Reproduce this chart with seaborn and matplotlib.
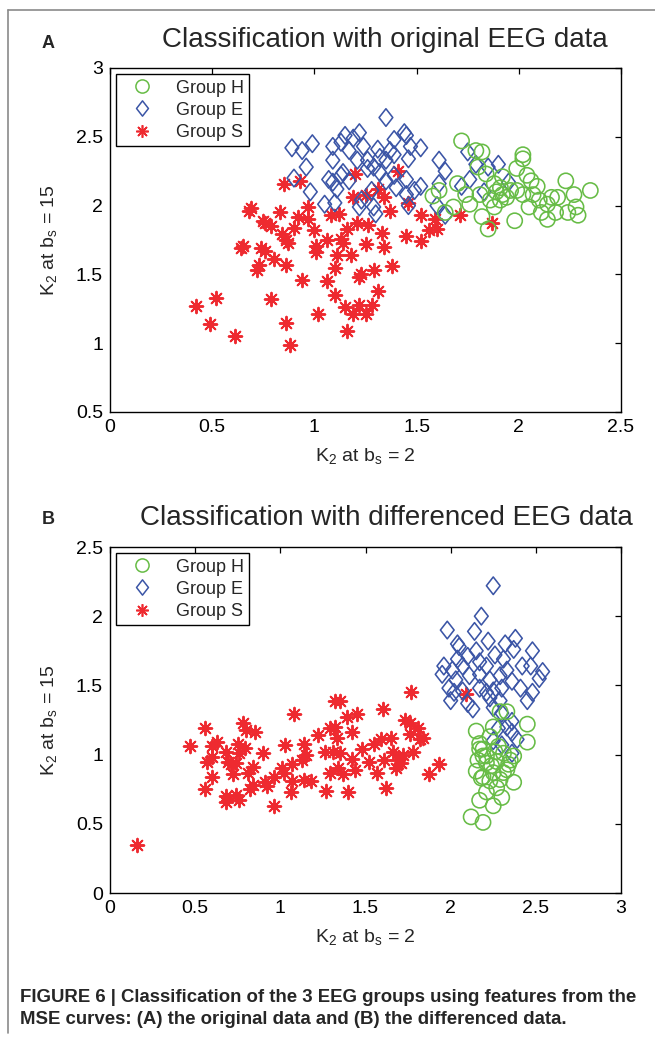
import numpy as np
import pandas as pd
import matplotlib
matplotlib.use("Agg")
import matplotlib.pyplot as plt
import seaborn as sns
from matplotlib.lines import Line2D
from matplotlib.path import Path
from matplotlib.ticker import FuncFormatter

# ---------------- data: panel A (original EEG) ----------------
A_H_x = [1.72, 1.79, 1.82, 2.02, 2.02, 1.99, 2.23, 2.35, 2.27, 1.61, 1.58, 1.64, 1.68, 1.70,
         1.74, 1.76, 1.81, 1.82, 1.85, 1.88, 1.89, 1.91, 1.92, 1.94, 1.88, 1.96, 1.98, 2.02,
         2.04, 2.06, 2.07, 2.09, 2.05, 2.10, 2.14, 2.11, 2.16, 2.19, 2.18, 2.14, 2.24, 2.28,
         2.29, 1.80, 1.84, 1.91, 1.86, 1.92, 1.99]
A_H_y = [2.47, 2.40, 2.39, 2.37, 2.34, 2.27, 2.18, 2.11, 2.08, 2.11, 2.07, 1.95, 1.99, 2.16,
         2.08, 2.01, 2.08, 1.92, 1.83, 2.16, 2.10, 2.04, 2.21, 2.06, 1.99, 2.11, 1.89, 2.08,
         2.22, 2.18, 2.08, 2.14, 1.99, 2.04, 2.01, 1.95, 2.06, 2.06, 1.95, 1.90, 1.95, 1.99,
         1.93, 2.28, 2.23, 2.13, 2.04, 2.08, 2.11]

A_E_x = [0.89, 0.94, 0.99, 0.96, 0.90, 0.98, 1.09, 1.13, 1.15, 1.19, 1.22, 1.17, 1.09, 1.24,
         1.07, 1.09, 1.11, 1.14, 1.13, 1.17, 1.21, 1.26, 1.26, 1.31, 1.05, 1.10, 1.22, 1.29,
         1.32, 1.28,
         1.35, 1.44, 1.45, 1.39, 1.47, 1.52, 1.37, 1.39, 1.46, 1.35, 1.29, 1.32, 1.39, 1.45,
         1.35, 1.52, 1.49, 1.45, 1.40, 1.23, 1.30, 1.46, 1.61, 1.64, 1.61, 1.60, 1.64, 1.75,
         1.79, 1.85, 1.90, 1.72, 1.76, 1.83, 1.95]
A_E_y = [2.42, 2.40, 2.45, 2.28, 2.20, 2.10, 2.33, 2.46, 2.51, 2.49, 2.53, 2.40, 2.43, 2.43,
         2.19, 2.17, 2.12, 2.24, 2.22, 2.18, 2.33, 2.33, 2.27, 2.41, 2.01, 2.02, 1.99, 1.99,
         2.35, 2.11,
         2.64, 2.53, 2.51, 2.48, 2.43, 2.42, 2.40, 2.37, 2.34, 2.33, 2.28, 2.24, 2.22, 2.19,
         2.18, 2.14, 2.11, 2.08, 2.13, 2.04, 1.94, 2.00, 2.33, 2.25, 2.16, 2.00, 1.93, 2.39,
         2.30, 2.28, 2.30, 2.14, 2.19, 2.10, 2.17]

A_S_x = [0.42, 0.52, 0.49, 0.61, 0.79, 0.86, 0.88, 1.02, 1.16, 0.94, 1.06, 1.10, 1.10, 0.86,
         0.80, 0.72, 0.73, 0.64, 0.65, 0.74, 0.76, 0.69, 0.68, 0.75, 0.76, 0.79, 0.83, 0.85,
         0.93, 0.84, 0.86, 0.87, 0.90, 0.92, 0.97, 0.97, 1.00, 1.01, 1.01, 1.06, 1.08, 1.12,
         1.13, 1.14, 1.16, 1.11, 1.18, 1.21, 1.26, 1.25, 1.29, 1.23, 1.22, 1.31, 1.15, 1.19,
         1.22, 1.25, 1.28, 1.19, 1.25, 1.20, 1.31,
         1.41, 1.34, 1.37, 1.46, 1.52, 1.59, 1.71, 1.56, 1.60, 1.52, 1.45, 1.33, 1.34, 1.38,
         1.87]
A_S_y = [1.27, 1.33, 1.14, 1.05, 1.32, 1.15, 0.99, 1.21, 1.09, 1.46, 1.45, 1.35, 1.55, 1.57,
         1.61, 1.53, 1.57, 1.69, 1.71, 1.69, 1.67, 1.98, 1.96, 1.89, 1.87, 1.85, 1.95, 2.16,
         2.18, 1.79, 1.75, 1.73, 1.84, 1.92, 1.90, 1.99, 1.82, 1.71, 1.66, 1.75, 1.93, 1.94,
         1.76, 1.73, 1.83, 1.64, 1.64, 1.87, 1.86, 1.72, 1.53, 1.50, 1.48, 1.38, 1.26, 1.21,
         1.28, 1.21, 1.28, 2.06, 2.08, 2.23, 2.12,
         2.25, 2.06, 1.96, 2.02, 1.93, 1.90, 1.93, 1.82, 1.83, 1.74, 1.78, 1.80, 1.70, 1.56,
         1.87]

# ---------------- data: panel B (differenced EEG) ----------------
B_H_x = [2.29, 2.33, 2.45, 2.45, 2.15, 2.25, 2.17, 2.19, 2.21, 2.26, 2.31, 2.37, 2.16, 2.21,
         2.27, 2.34, 2.15, 2.19, 2.25, 2.31, 2.37, 2.23, 2.27, 2.30, 2.21, 2.17, 2.25, 2.12,
         2.19, 2.17, 2.28, 2.33, 2.18, 2.29, 2.24, 2.35, 2.23, 2.19]
B_H_y = [1.31, 1.31, 1.22, 1.09, 1.17, 1.20, 1.08, 1.04, 0.99, 1.02, 1.01, 0.99, 0.96, 0.94,
         0.95, 0.93, 0.88, 0.84, 0.87, 0.87, 0.80, 0.81, 0.76, 0.69, 0.73, 0.67, 0.63, 0.55,
         0.51, 1.04, 1.06, 0.89, 0.83, 0.82, 0.92, 0.96, 1.13, 0.99]

B_E_x = [2.25, 2.18, 1.98, 2.14, 2.04, 2.05, 2.22, 2.32, 2.38, 2.37, 2.48, 2.10, 2.15, 2.26,
         1.96, 1.95, 2.01, 2.07, 2.17, 2.21, 2.31, 2.33, 2.42, 2.47, 2.54, 2.52, 2.03, 2.11,
         2.17, 2.23, 2.29, 2.36, 1.99, 2.02, 2.07, 2.17, 2.25, 2.30, 2.41, 2.48, 2.00, 2.10,
         2.13, 2.23, 2.29, 2.45, 2.25, 2.30, 2.36, 2.28, 2.36, 2.39, 2.25, 2.30, 2.36, 2.33,
         2.21, 2.04]
B_E_y = [2.22, 2.00, 1.90, 1.89, 1.80, 1.78, 1.82, 1.80, 1.84, 1.76, 1.75, 1.71, 1.75, 1.72,
         1.64, 1.58, 1.61, 1.64, 1.67, 1.64, 1.69, 1.61, 1.64, 1.64, 1.60, 1.55, 1.54, 1.57,
         1.58, 1.54, 1.57, 1.53, 1.48, 1.45, 1.46, 1.48, 1.46, 1.48, 1.48, 1.45, 1.39, 1.37,
         1.33, 1.41, 1.39, 1.39, 1.34, 1.30, 1.24, 1.19, 1.16, 1.11, 1.10, 1.07, 1.01, 1.20,
         1.45, 1.69]

B_S_x = [0.16, 0.47, 0.56, 0.56, 0.57, 0.60, 0.60, 0.63, 0.60, 0.68, 0.68, 0.68, 0.69, 0.71,
         0.72, 0.74, 0.74, 0.76, 0.75, 0.76, 0.79, 0.78, 0.80, 0.85, 0.81, 0.84, 0.82, 0.84,
         0.90, 0.91, 0.92, 0.96, 0.96, 1.01, 1.02, 1.03, 1.06, 1.07, 1.07, 1.08, 1.13, 1.14,
         1.15, 1.14, 1.18, 1.22, 1.26, 1.27, 1.29, 1.32, 1.33, 1.32, 1.35, 1.31, 1.35, 1.29,
         1.34, 1.37, 1.40, 1.39, 1.42, 1.42, 1.44, 1.45, 1.48,
         1.52, 1.55, 1.57,
         1.77, 1.60, 1.73, 1.76, 1.81, 1.76, 1.82, 1.84, 1.59, 1.65, 1.66, 1.78, 1.72, 1.61,
         1.69, 1.68, 1.71, 1.93, 1.87, 1.62, 2.09]
B_S_y = [0.35, 1.06, 1.19, 0.75, 0.95, 0.98, 1.06, 1.09, 0.84, 0.70, 0.66, 1.02, 0.95, 0.93,
         0.86, 0.94, 0.71, 0.67, 1.08, 1.01, 1.05, 1.23, 1.18, 1.16, 0.87, 0.91, 0.75, 0.78,
         1.01, 0.80, 0.77, 0.63, 0.84, 0.90, 0.87, 1.07, 0.73, 0.81, 0.93, 1.29, 0.96, 1.08,
         1.00, 0.82, 0.81, 1.14, 1.02, 0.74, 1.19, 1.20, 1.12, 1.39, 1.39, 1.02, 1.01, 0.87,
         0.90, 0.86, 0.73, 1.27, 1.16, 0.97, 0.89, 1.29, 1.04,
         0.95, 1.08, 0.87,
         1.45, 1.33, 1.25, 1.23, 1.19, 1.15, 1.11, 1.12, 1.11, 1.12, 1.02, 1.02, 1.00, 0.96,
         0.96, 0.90, 0.94, 0.93, 0.86, 0.76, 1.44]

groups = ["Group H", "Group E", "Group S"]
colors = {"Group H": "#67bc46", "Group E": "#3b55a6", "Group S": "#ee2a30"}

diamond = Path([(0, 1), (0.78, 0), (0, -1), (-0.78, 0), (0, 1)],
               [Path.MOVETO, Path.LINETO, Path.LINETO, Path.LINETO, Path.CLOSEPOLY])
markers = {"Group H": "o", "Group E": diamond, "Group S": (8, 2, 0)}
sizes = {"Group H": 120, "Group E": 160, "Group S": 95}

sns.set_style("white")
plt.rcParams["font.family"] = ["Liberation Sans", "DejaVu Sans"]
plt.rcParams["mathtext.fontset"] = "custom"
plt.rcParams["mathtext.rm"] = "Liberation Sans"
plt.rcParams["mathtext.it"] = "Liberation Sans"

fig = plt.figure(figsize=(6.55, 10.39), dpi=100)
W, H = 655, 1039


def ax_rect(l, r, t, b):
    return [l / W, 1 - b / H, (r - l) / W, (b - t) / H]


axA = fig.add_axes(ax_rect(110, 621, 68, 412))
axB = fig.add_axes(ax_rect(110, 621, 547, 893))

panels = [
    (axA, {"Group H": (A_H_x, A_H_y), "Group E": (A_E_x, A_E_y), "Group S": (A_S_x, A_S_y)},
     (0, 2.5), (0.5, 3), np.arange(0, 2.51, 0.5), np.arange(0.5, 3.01, 0.5)),
    (axB, {"Group H": (B_H_x, B_H_y), "Group E": (B_E_x, B_E_y), "Group S": (B_S_x, B_S_y)},
     (0, 3), (0, 2.5), np.arange(0, 3.01, 0.5), np.arange(0, 2.51, 0.5)),
]

fmt = FuncFormatter(lambda v, p: f"{v:g}")
zorders = {"Group S": 1, "Group E": 2, "Group H": 3}
for ax, data, xl, yl, xt, yt in panels:
    for g in ["Group S", "Group E", "Group H"]:
        df = pd.DataFrame({"x": data[g][0], "y": data[g][1]})
        if g == "Group S":
            sns.scatterplot(data=df, x="x", y="y", ax=ax, marker=markers[g], s=sizes[g],
                            color=colors[g], linewidth=1.4, zorder=zorders[g])
        else:
            sns.scatterplot(data=df, x="x", y="y", ax=ax, marker=markers[g], s=sizes[g],
                            facecolors="none", edgecolor=colors[g], linewidth=1.15,
                            zorder=zorders[g])
    ax.set_xlim(*xl)
    ax.set_ylim(*yl)
    ax.set_xticks(xt)
    ax.set_yticks(yt)
    ax.xaxis.set_major_formatter(fmt)
    ax.yaxis.set_major_formatter(fmt)
    ax.tick_params(direction="in", length=4, width=0.9, top=True, right=True,
                   labelsize=14, pad=5, colors="black")
    for sp in ax.spines.values():
        sp.set_visible(True)
        sp.set_color("black")
        sp.set_linewidth(1.0)
    ax.set_xlabel(r"K$_{\mathregular{2}}$ at b$_{\mathregular{s}}$ = 2", fontsize=14, labelpad=7)
    ax.set_ylabel(r"K$_{\mathregular{2}}$ at b$_{\mathregular{s}}$ = 15", fontsize=14, labelpad=12)

    leg_handles = [
        Line2D([], [], linestyle="none", marker="o", markersize=9.5, markerfacecolor="none",
               markeredgecolor=colors["Group H"], markeredgewidth=1.1),
        Line2D([], [], linestyle="none", marker=diamond, markersize=11, markerfacecolor="none",
               markeredgecolor=colors["Group E"], markeredgewidth=1.1),
        Line2D([], [], linestyle="none", marker=(8, 2, 0), markersize=9,
               color=colors["Group S"], markeredgewidth=1.2),
    ]
    leg = ax.legend(leg_handles, groups, loc="upper left", fontsize=13, frameon=True,
                    fancybox=False, edgecolor="black", framealpha=1, borderpad=0.3,
                    labelspacing=0.28, handletextpad=0.8, handlelength=2.2,
                    borderaxespad=0.35)
    leg.get_frame().set_linewidth(1.0)

fig.text(385 / W, 1 - 40 / H, "Classification with original EEG data", fontsize=20,
         ha="center", va="center")
fig.text(386 / W, 1 - 518 / H, "Classification with differenced EEG data", fontsize=20,
         ha="center", va="center")
fig.text(48 / W, 1 - 43 / H, "A", fontsize=13, fontweight="bold", ha="center", va="center")
fig.text(48 / W, 1 - 520 / H, "B", fontsize=13, fontweight="bold", ha="center", va="center")

fig.text(20 / W, 1 - 997 / H,
         "FIGURE 6 | Classification of the 3 EEG groups using features from the",
         fontsize=13.4, fontweight="bold", ha="left", va="center")
fig.text(20 / W, 1 - 1020 / H,
         "MSE curves: (A) the original data and (B) the differenced data.",
         fontsize=13.4, fontweight="bold", ha="left", va="center")

# outer frame lines of the figure panel
fig.add_artist(Line2D([8 / W, 8 / W], [1 - 10 / H, 1 - 1033 / H], color="#8a8a8a",
                      linewidth=1.2, transform=fig.transFigure))
fig.add_artist(Line2D([8 / W, 1.0], [1 - 10 / H, 1 - 10 / H], color="#8a8a8a",
                      linewidth=1.2, transform=fig.transFigure))

fig.savefig("out.png", dpi=100)
